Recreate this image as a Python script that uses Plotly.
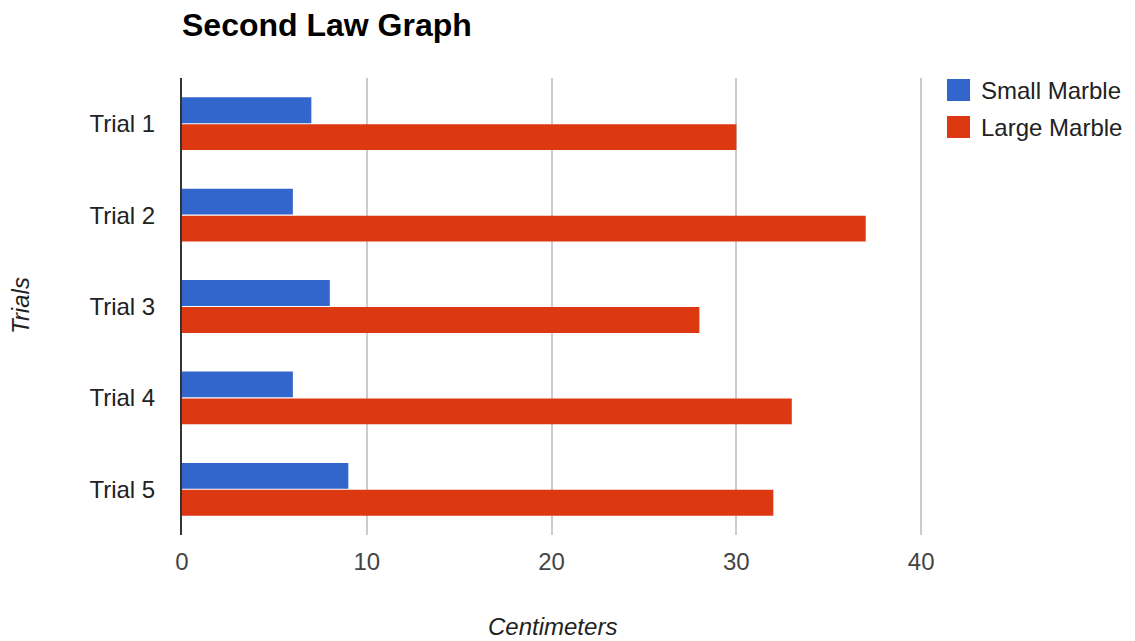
import plotly.graph_objects as go

trials = ["Trial 1", "Trial 2", "Trial 3", "Trial 4", "Trial 5"]
small_marble = [7, 6, 8, 6, 9]
large_marble = [30, 37, 28, 33, 32]
series_names = ["Small Marble", "Large Marble"]
series_colors = ["#3366CC", "#DC3912"]
x_ticks = [0, 10, 20, 30, 40]

FONT = "Liberation Sans, Arial, sans-serif"

PLOT_L, PLOT_T, PLOT_W, PLOT_H = 182, 78, 741, 457

fig = go.Figure()
for name, vals, color in zip(series_names, [small_marble, large_marble], series_colors):
    fig.add_trace(go.Bar(
        y=trials, x=vals, name=name, orientation="h",
        marker=dict(color=color, line=dict(width=0)),
        showlegend=False,
    ))

# legend drawn as swatches + labels to the right of the plot
for i, (name, color) in enumerate(zip(series_names, series_colors)):
    yc = 1 - (12 + 37 * i) / PLOT_H
    fig.add_shape(type="rect", xref="paper", yref="paper",
                  x0=(947 - PLOT_L) / PLOT_W, x1=(970 - PLOT_L) / PLOT_W,
                  y0=yc - 11 / PLOT_H, y1=yc + 11 / PLOT_H,
                  fillcolor=color, line=dict(width=0))
    fig.add_annotation(text=name, xref="paper", yref="paper",
                       x=(979 - PLOT_L) / PLOT_W, y=yc, xanchor="left", yanchor="middle",
                       showarrow=False, font=dict(family=FONT, size=24, color="#222"))

# axis titles
fig.add_annotation(text="<i>Centimeters</i>", xref="paper", yref="paper",
                   x=(552 - PLOT_L) / PLOT_W, y=-(626 - PLOT_T - PLOT_H) / PLOT_H,
                   xanchor="center", yanchor="middle", showarrow=False,
                   font=dict(family=FONT, size=24, color="#222"))
fig.add_annotation(text="<i>Trials</i>", xref="paper", yref="paper",
                   x=-(PLOT_L - 20) / PLOT_W, y=1 - (306 - PLOT_T) / PLOT_H,
                   xanchor="center", yanchor="middle", textangle=-90, showarrow=False,
                   font=dict(family=FONT, size=24, color="#222"))

fig.update_layout(
    width=1135, height=641,
    margin=dict(l=PLOT_L, r=1135 - PLOT_L - PLOT_W, t=PLOT_T, b=641 - PLOT_T - PLOT_H),
    paper_bgcolor="white", plot_bgcolor="white",
    barmode="group", bargap=0.41, bargroupgap=0.04,
    font=dict(family=FONT, size=24, color="#444"),
    title=dict(text="<b>Second Law Graph</b>", x=PLOT_L / 1135, xanchor="left",
               y=1 - 25 / 641, yanchor="middle",
               font=dict(family=FONT, size=32, color="#000")),
    xaxis=dict(range=[0, 40.1], tickvals=x_ticks, showgrid=True,
               gridcolor="#cccccc", gridwidth=1.5, zeroline=False,
               showline=False, ticks="", ticklabelstandoff=10, automargin=False,
               tickfont=dict(size=24, color="#444")),
    yaxis=dict(autorange="reversed", showline=True, linecolor="#333",
               linewidth=2, showgrid=False, ticks="", ticklabelstandoff=20,
               automargin=False, tickfont=dict(size=24, color="#222")),
)

fig.write_html("out.html")
